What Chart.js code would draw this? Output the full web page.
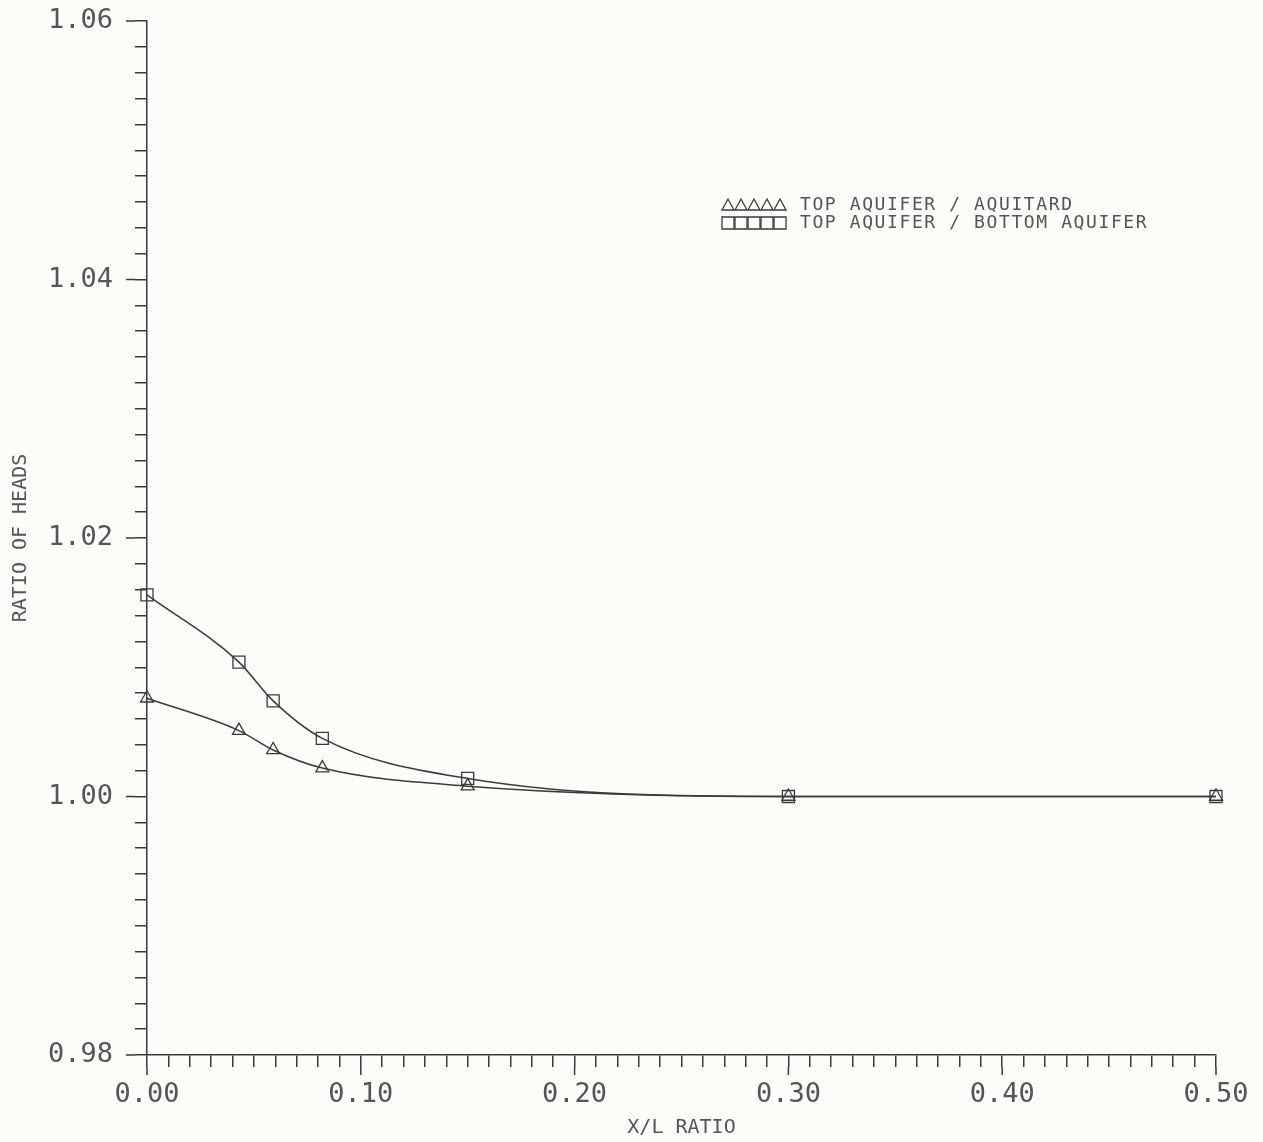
<!DOCTYPE html>
<html>
<head>
<meta charset="utf-8">
<title>Ratio of heads</title>
<script src="https://cdn.jsdelivr.net/npm/chart.js@4/dist/chart.umd.min.js"></script>
<style>
  html, body { margin: 0; padding: 0; background: #fdfcf8; }
  #wrap { width: 1263px; height: 1142px; }
</style>
</head>
<body>
<div id="wrap"><canvas id="heads-chart" width="1263" height="1142"></canvas></div>
<script>
// x/L positions of the computed points
const xRatio = [0, 0.043, 0.059, 0.082, 0.15, 0.30, 0.50]
// top aquifer / aquitard
const aquitard = [1.0076, 1.0051, 1.0036, 1.0022, 1.0008, 1.0000, 1.0000]
// top aquifer / bottom aquifer
const bottomAquifer = [1.0156, 1.0104, 1.0074, 1.0045, 1.0014, 1.0000, 1.0000]

const legendLabels = ['TOP AQUIFER / AQUITARD', 'TOP AQUIFER / BOTTOM AQUIFER']
const xTitle = 'X/L RATIO'
const yTitle = 'RATIO OF HEADS'

const ink = '#3a3a3a'
const textInk = '#555'
const monoFont = "'DejaVu Sans Mono', 'Liberation Mono', monospace"

function toPoints(values) {
    return xRatio.map((x, i) => ({ x: x, y: values[i] }))
}

function isMajor(v, per) {
    return Math.abs(v * per - Math.round(v * per)) < 1e-6
}

// longer ticks at the labelled values
const majorTicks = {
    id: 'majorTicks',
    afterDraw(chart) {
        const ctx = chart.ctx
        const xs = chart.scales.x
        const ys = chart.scales.y
        ctx.save()
        ctx.strokeStyle = ink
        ctx.lineWidth = 1.5
        ctx.beginPath()
        xs.ticks.forEach(t => {
            if (!isMajor(t.value, 10)) return
            const px = xs.getPixelForValue(t.value)
            ctx.moveTo(px, xs.top + 12)
            ctx.lineTo(px, xs.top + 20)
        })
        ys.ticks.forEach(t => {
            if (!isMajor(t.value, 50)) return
            const py = ys.getPixelForValue(t.value)
            ctx.moveTo(ys.right - 12, py)
            ctx.lineTo(ys.right - 21, py)
        })
        ctx.stroke()
        ctx.restore()
    }
}

// plotter style legend: five markers in a row, then the text
const rowLegend = {
    id: 'rowLegend',
    afterDraw(chart) {
        const ctx = chart.ctx
        const left = 722
        const rows = [205, 223]
        ctx.save()
        ctx.strokeStyle = ink
        ctx.lineWidth = 1.3
        rows.forEach((y, r) => {
            for (let k = 0; k < 5; k++) {
                const cx = left + 6 + k * 13
                ctx.beginPath()
                if (r === 0) {
                    ctx.moveTo(cx - 6, y + 5)
                    ctx.lineTo(cx, y - 6)
                    ctx.lineTo(cx + 6, y + 5)
                    ctx.closePath()
                } else {
                    ctx.rect(cx - 6, y - 6, 12, 12)
                }
                ctx.stroke()
            }
            ctx.fillStyle = textInk
            ctx.font = '18px ' + monoFont
            ctx.textBaseline = 'middle'
            ctx.textAlign = 'left'
            ctx.letterSpacing = '1.6px'
            ctx.fillText(legendLabels[r], 800, y)
        })
        ctx.restore()
    }
}

const ctx = document.getElementById('heads-chart')
const chart = new Chart(ctx, {
    type: 'line',
    data: {
        datasets: [{
            label: legendLabels[0],
            data: toPoints(aquitard),
            borderColor: ink,
            borderWidth: 1.5,
            pointStyle: 'triangle',
            pointRadius: 7.5,
            pointBorderWidth: 1.3,
            pointBackgroundColor: 'rgba(0,0,0,0)',
            pointBorderColor: ink,
            cubicInterpolationMode: 'monotone',
            clip: false,
            fill: false
        }, {
            label: legendLabels[1],
            data: toPoints(bottomAquifer),
            borderColor: ink,
            borderWidth: 1.5,
            pointStyle: 'rect',
            pointRadius: 8.5,
            pointBorderWidth: 1.3,
            pointBackgroundColor: 'rgba(0,0,0,0)',
            pointBorderColor: ink,
            cubicInterpolationMode: 'monotone',
            clip: false,
            fill: false
        }]
    },
    options: {
        responsive: false,
        animation: false,
        layout: { padding: { left: 0, top: 21, right: 47, bottom: 0 } },
        plugins: {
            legend: { display: false },
            tooltip: { enabled: false }
        },
        scales: {
            x: {
                type: 'linear',
                min: 0,
                max: 0.5,
                afterFit: s => { s.height = 87 },
                border: { display: true, color: ink, width: 1.5 },
                grid: { drawOnChartArea: false, tickLength: 12, color: ink, lineWidth: 1.5 },
                ticks: {
                    stepSize: 0.01,
                    autoSkip: false,
                    maxTicksLimit: 100,
                    maxRotation: 0,
                    padding: 12,
                    color: textInk,
                    font: { family: monoFont, size: 27 },
                    callback: v => isMajor(v, 10) ? v.toFixed(2) : ''
                },
                title: {
                    display: true,
                    text: xTitle,
                    color: textInk,
                    font: { family: monoFont, size: 20 },
                    padding: { top: 0, bottom: 2 }
                }
            },
            y: {
                type: 'linear',
                min: 0.98,
                max: 1.06,
                afterFit: s => {
                    s.width = 147
                    s.paddingTop = 0
                    s.paddingBottom = 0
                },
                border: { display: true, color: ink, width: 1.5 },
                grid: { drawOnChartArea: false, tickLength: 12, color: ink, lineWidth: 1.5 },
                ticks: {
                    stepSize: 0.002,
                    autoSkip: false,
                    maxTicksLimit: 100,
                    padding: 22,
                    color: textInk,
                    font: { family: monoFont, size: 27 },
                    callback: v => isMajor(v, 50) ? v.toFixed(2) : ''
                },
                title: {
                    display: true,
                    text: yTitle,
                    color: textInk,
                    font: { family: monoFont, size: 20 },
                    padding: { top: 9, bottom: 0 }
                }
            }
        }
    },
    plugins: [majorTicks, rowLegend]
})
</script>
</body>
</html>
